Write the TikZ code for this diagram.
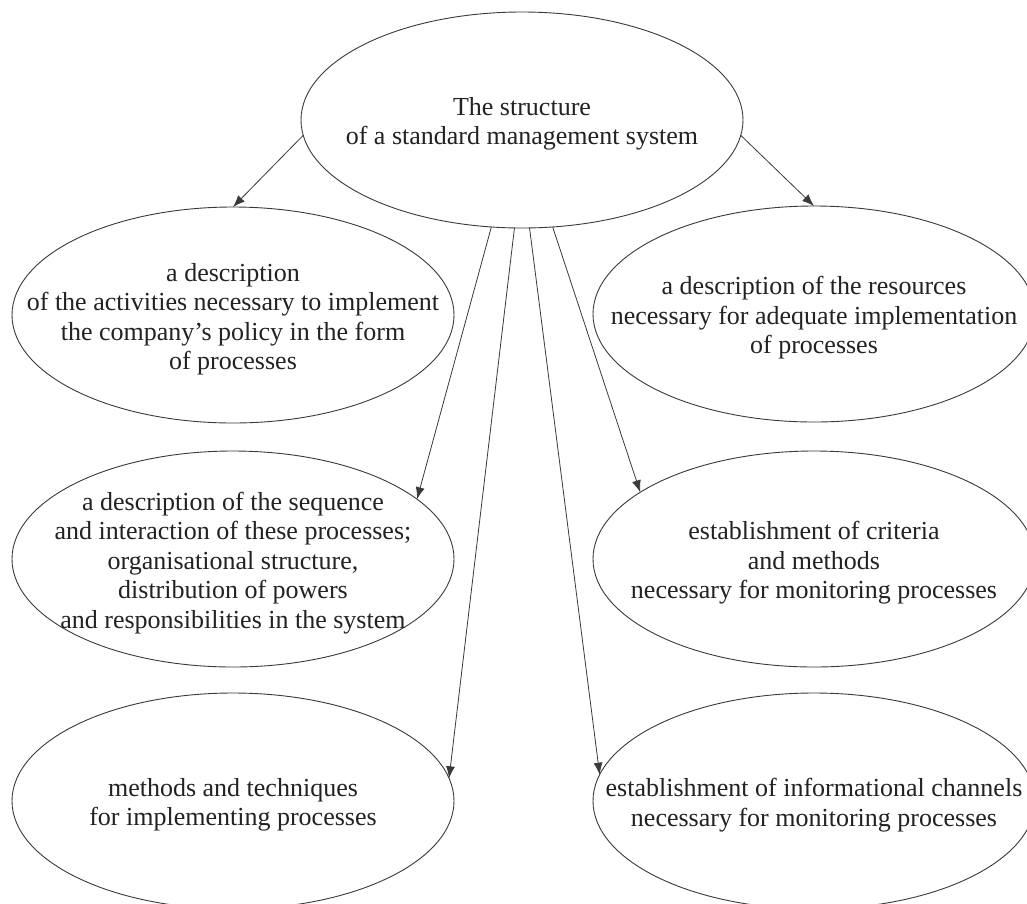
\documentclass[tikz,border=0pt]{standalone}
\usepackage{fontspec}
\setmainfont{Liberation Serif}
\usetikzlibrary{shapes.geometric,arrows.meta}
\definecolor{ink}{HTML}{222222}
\definecolor{edge}{HTML}{3A3A3A}
\tikzset{
  oval/.style={ellipse, draw=edge, line width=0.9pt, minimum width=442pt, minimum height=216pt, inner sep=0pt, outer sep=0pt},
  txt/.style={align=center, text=ink, yshift=-4pt, font=\fontsize{26pt}{29.5pt}\selectfont},
  arr/.style={draw=edge, line width=0.8pt, -{Latex[length=12pt,width=9pt]}}
}
\begin{document}
\begin{tikzpicture}[x=1pt,y=-1pt]
\useasboundingbox (0,0) rectangle (1027,903);
\clip (0,0) rectangle (1027,903);
\fill[white] (0,0) rectangle (1027,903);

\node[oval, label={[txt]center:{The structure\\of a standard management system}}] (top) at (522,120) {};

\node[oval, label={[txt]center:{a description\\of the activities necessary to implement\\the company’s policy in the form\\of processes}}] (l1) at (233,315) {};
\node[oval, label={[txt]center:{a description of the sequence\\and interaction of these processes;\\organisational structure,\\distribution of powers\\and responsibilities in the system}}] (l2) at (233,559) {};
\node[oval, label={[txt]center:{methods and techniques\\for implementing processes}}] (l3) at (233,801) {};

\node[oval, label={[txt]center:{a description of the resources\\necessary for adequate implementation\\of processes}}] (r1) at (814,314) {};
\node[oval, label={[txt]center:{establishment of criteria\\and methods\\necessary for monitoring processes}}] (r2) at (814,559) {};
\node[oval, label={[txt]center:{establishment of informational channels\\necessary for monitoring processes}}] (r3) at (814,801) {};

\draw[arr] (top.184.7) -- (l1.north);
\draw[arr] (top.-4) -- (r1.north);
\draw[arr] (top.254.8) -- (l2.18.7);
\draw[arr] (top.266.3) -- (l3.6.6);
\draw[arr] (top.274.3) -- (r3.173.8);
\draw[arr] (top.-74) -- (r2.159.9);
\end{tikzpicture}
\end{document}
